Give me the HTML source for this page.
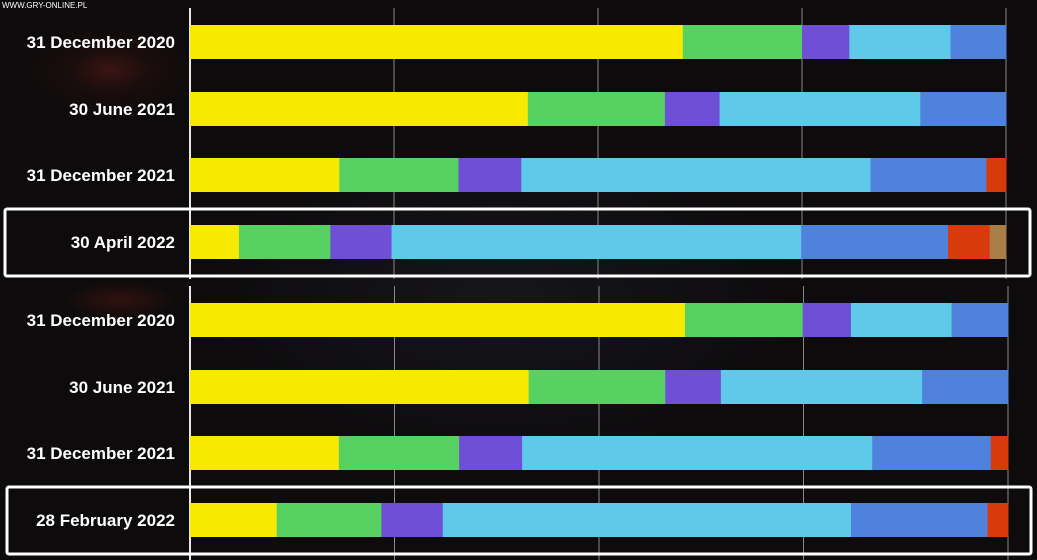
<!DOCTYPE html>
<html><head><meta charset="utf-8"><style>
html,body{margin:0;padding:0;background:#0d0b0c;}
#wrap{position:relative;width:1037px;height:560px;overflow:hidden;background:radial-gradient(ellipse at 110px 70px,#3a1512 0,#1a0d0d 40px,transparent 90px),radial-gradient(ellipse at 120px 300px,#30120f 0,transparent 60px),radial-gradient(ellipse at 500px 300px,#16151a 0,transparent 300px),#0d0b0c;}
svg{position:absolute;left:0;top:0;}
text{font-family:"Liberation Sans",sans-serif;}
</style></head><body>
<div id="wrap">
<svg id="c" width="1037" height="560"></svg>
</div>
<script>
const topCategories=["31 December 2020","30 June 2021","31 December 2021","30 April 2022"];
const bottomCategories=["31 December 2020","30 June 2021","31 December 2021","28 February 2022"];
const colors=["#f7e900","#56d162","#6e4fd6","#5ec9e8","#4f82dc","#d93a0c","#a97e46"];
const topSeries=[
 [60.4,14.6,5.8,12.4,6.8,0,0],
 [41.4,16.8,6.7,24.6,10.5,0,0],
 [18.3,14.6,7.7,42.8,14.2,2.4,0],
 [6.0,11.2,7.5,50.2,18.0,5.1,2.0]
];
const bottomSeries=[
 [60.5,14.4,5.9,12.3,6.9,0,0],
 [41.4,16.7,6.8,24.6,10.5,0,0],
 [18.2,14.7,7.7,42.8,14.5,2.1,0],
 [10.6,12.8,7.5,49.9,16.7,2.5,0]
];
const ticks=[0,25,50,75,100];
const svg=document.getElementById('c');
const NS="http://www.w3.org/2000/svg";
function mk(t,a){const e=document.createElementNS(NS,t);for(const k in a)e.setAttribute(k,a[k]);svg.appendChild(e);return e;}
function drawChart(cats,series,x0,x1,rowY,gy0,gy1,box,prefix){
  const xs=v=>x0+(x1-x0)*v/100;
  ticks.forEach(t=>{
    const l=mk('line',{x1:xs(t),x2:xs(t),y1:gy0,y2:gy1,stroke:t==0?'#e8e8e8':'#888',"stroke-width":t==0?2:1});
    
    
  });
  cats.forEach((c,i)=>{
    const y=rowY[i];
    let acc=0;
    series[i].forEach((v,j)=>{
      if(v<=0)return;
      const r=mk('rect',{x:xs(acc),y:y,width:xs(acc+v)-xs(acc)+0.5,height:34,fill:colors[j]});
      
      
      acc+=v;
    });
    const t=mk('text',{x:175,y:y+23,"text-anchor":"end",fill:"#fff","font-size":"17","font-weight":"bold"});
    t.textContent=c;
    
    
  });
  const b=mk('rect',{x:box[0],y:box[1],width:box[2],height:box[3],fill:'none',stroke:'#fff','stroke-width':3,rx:2});
  
  
}
drawChart(topCategories,topSeries,190,1006,[25,92,158,225],8,279,[5,209,1025,67],'top');
drawChart(bottomCategories,bottomSeries,190,1008,[303,370,436,503],286,560,[7,487,1024,67],'bottom');
const w=mk('text',{x:2,y:8,fill:"#fff","font-size":"8"});
w.textContent="WWW.GRY-ONLINE.PL";


</script>
</body></html>
